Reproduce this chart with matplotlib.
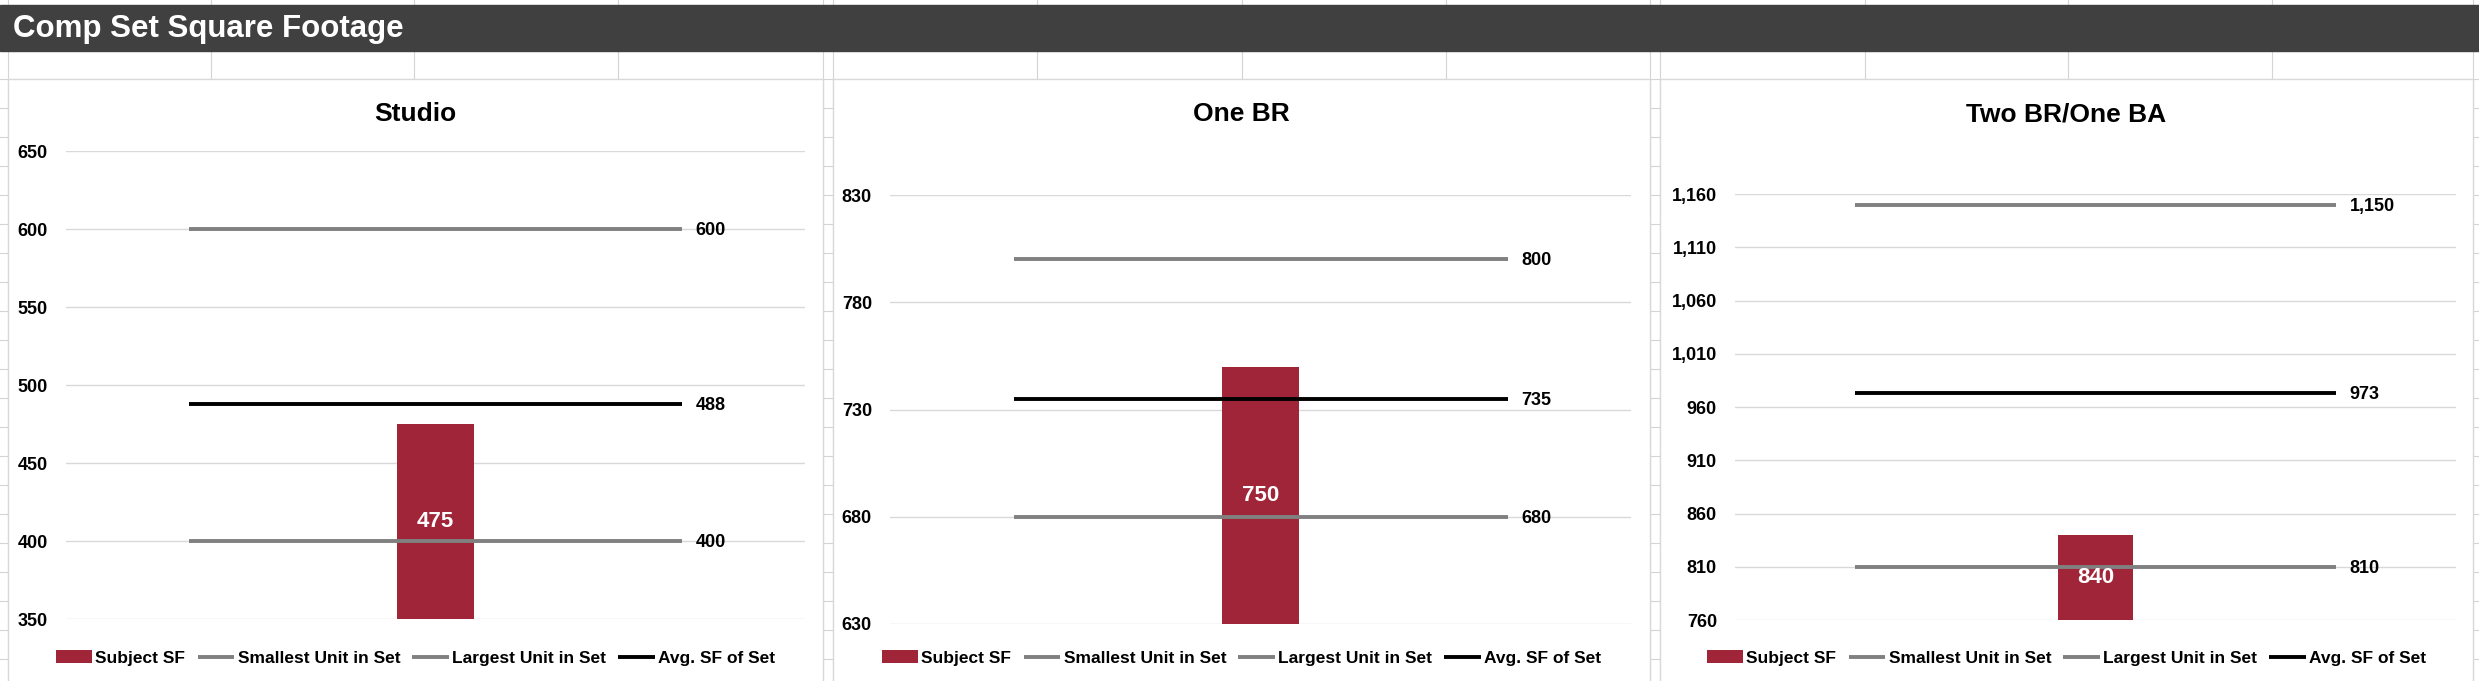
import matplotlib
matplotlib.use("Agg")
import matplotlib.pyplot as plt
from matplotlib.patches import Rectangle
from matplotlib.ticker import FuncFormatter

plt.rcParams["font.family"] = ["Liberation Sans", "DejaVu Sans"]
plt.rcParams["font.weight"] = "bold"

# data
categories = ["Studio", "One BR", "Two BR/One BA"]
subject_sf = [475, 750, 840]
smallest_sf = [400, 680, 810]
largest_sf = [600, 800, 1150]
avg_sf = [488, 735, 973]
axis_min = [350, 630, 760]
axis_max = [650, 830, 1160]
axis_step = 50
legend_labels = ["Subject SF", "Smallest Unit in Set", "Largest Unit in Set", "Avg. SF of Set"]

W, H = 2479, 681
BAR_COLOR = "#A12539"
GRAY = "#808080"
GRID = "#D9D9D9"
SHEET = "#D4D4D4"

fig = plt.figure(figsize=(W / 100, H / 100), dpi=100)

# spreadsheet backdrop, pixel coordinates
bg = fig.add_axes([0, 0, 1, 1])
bg.set_xlim(0, W)
bg.set_ylim(H, 0)
bg.axis("off")
for y in range(79, H, 29):
    bg.plot([0, W], [y, y], color=SHEET, lw=0.8)
for x in [8, 211, 414, 618, 823, 833, 1037, 1242, 1446, 1650, 1660, 1865, 2068, 2272, 2473]:
    bg.plot([x, x], [0, H], color=SHEET, lw=0.8)
bg.add_patch(Rectangle((0, 5), W, 46, color="#404040", zorder=3))
bg.text(13, 29, "Comp Set Square Footage", color="white", fontsize=22.5,
        fontweight="bold", va="center", ha="left", zorder=4)

panels = [(8, 823), (833, 1650), (1660, 2473)]
for left, right in panels:
    bg.add_patch(Rectangle((left, 79), right - left, H - 79 + 5,
                           facecolor="white", edgecolor=GRID, lw=1, zorder=2))

# plot areas (left, top, right, bottom) in pixels
plot_boxes = [(66, 151, 805, 619), (890, 195, 1631, 624), (1735, 194, 2456, 620)]


def fig_rect(left, top, right, bottom):
    return [left / W, 1 - bottom / H, (right - left) / W, (bottom - top) / H]


bar_width = 0.104
line_half = 1 / 3

for i, cat in enumerate(categories):
    ax = fig.add_axes(fig_rect(*plot_boxes[i]))
    ax.set_facecolor("none")
    lo, hi = axis_min[i], axis_max[i]
    ax.set_xlim(-0.5, 0.5)
    ax.set_ylim(lo, hi)
    ax.set_yticks(range(lo, hi + 1, axis_step))
    ax.yaxis.set_major_formatter(FuncFormatter(lambda v, p: f"{int(v):,}"))
    ax.grid(axis="y", color=GRID, lw=1)
    ax.set_axisbelow(True)
    ax.set_xticks([])
    for s in ax.spines.values():
        s.set_visible(False)
    ax.tick_params(axis="y", length=0, pad=13, labelsize=13)
    for lab in ax.get_yticklabels():
        lab.set_fontweight("bold")

    bars = ax.bar([0], [subject_sf[i] - lo], bottom=lo, width=bar_width,
                  color=BAR_COLOR, zorder=2, label=legend_labels[0])
    ax.text(0, (lo + subject_sf[i]) / 2, f"{subject_sf[i]:,}", color="white",
            fontsize=16, fontweight="bold", ha="center", va="center", zorder=5)

    handles = [bars]
    series = [(smallest_sf[i], GRAY), (largest_sf[i], GRAY), (avg_sf[i], "black")]
    for val, col in series:
        ln, = ax.plot([-line_half, line_half], [val, val], color=col, lw=2.8,
                      solid_capstyle="butt", zorder=3)
        handles.append(ln)
        ax.annotate(f"{val:,}", (line_half, val), xytext=(10, -1),
                    textcoords="offset points", ha="left", va="center",
                    fontsize=13, fontweight="bold", clip_on=False)

    pl, pr = panels[i]
    fig.text((pl + pr) / 2 / W, 1 - 114 / H, cat, fontsize=19,
             fontweight="bold", ha="center", va="center")
    ax.legend(handles, legend_labels, loc="center",
              bbox_to_anchor=((pl + pr) / 2 / W, 1 - 658 / H),
              bbox_transform=fig.transFigure, ncol=4, frameon=False,
              handlelength=2.1, handletextpad=0.2, columnspacing=0.7,
              prop={"weight": "bold", "size": 12.5})

fig.savefig("out.png", dpi=100)
